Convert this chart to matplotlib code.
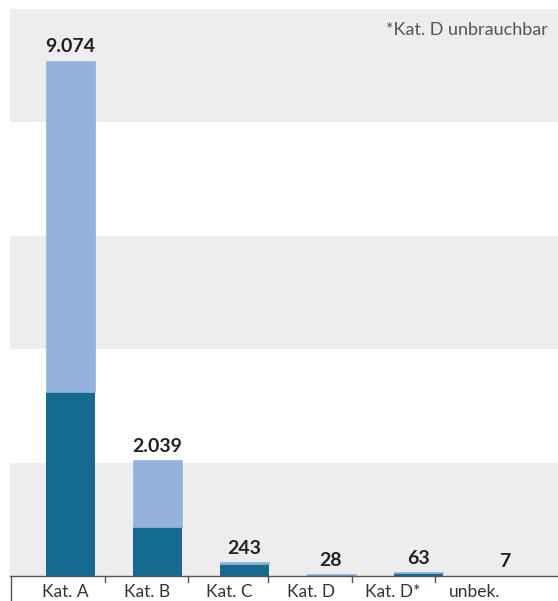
import matplotlib
matplotlib.use("Agg")
import matplotlib.pyplot as plt

categories = ["Kat. A", "Kat. B", "Kat. C", "Kat. D", "Kat. D*", "unbek."]
dark_values = [3240, 860, 215, 20, 60, 0]
light_values = [5834, 1179, 28, 8, 3, 7]
total_labels = ["9.074", "2.039", "243", "28", "63", "7"]
footnote = "*Kat. D unbrauchbar"

DARK = "#146b8f"
LIGHT = "#94b2dd"
BAND = "#ededed"

W, H = 558, 601
fig = plt.figure(figsize=(W / 100, H / 100), dpi=100)
plt.rcParams["font.family"] = ["Lato", "DejaVu Sans"]

# pixel geometry of the reference
ax_left, ax_right, ax_top, ax_bottom = 10, 558, 8.5, 576
ax = fig.add_axes([ax_left / W, (H - ax_bottom) / H, (ax_right - ax_left) / W, (ax_bottom - ax_top) / H])

bar_px0, bar_step = 70, 87


def px_to_x(px):
    return (px - bar_px0) / bar_step


positions = list(range(len(categories)))
totals = [d + l for d, l in zip(dark_values, light_values)]

for lo in (0, 4000, 8000):
    ax.axhspan(lo, lo + 2000, color=BAND, lw=0, zorder=0)

ax.bar(positions, dark_values, width=49 / bar_step, color=DARK, zorder=2)
ax.bar(positions, light_values, bottom=dark_values, width=49 / bar_step, color=LIGHT,
       edgecolor=LIGHT, lw=0.5, zorder=2)

for x, t, lab in zip(positions, totals, total_labels):
    ax.annotate(lab, (x, t), xytext=(0, 4), textcoords="offset points",
                ha="center", va="bottom", fontsize=14, fontweight="bold", color="#222222")

ax.set_xlim(px_to_x(ax_left), px_to_x(ax_right))
ax.set_ylim(0, 10000)
ax.set_yticks([])

label_px = [65 + 82 * i for i in range(len(categories))]
ax.set_xticks([px_to_x(p) for p in label_px])
ax.set_xticklabels(categories, fontsize=12.5, color="#333333")
ax.tick_params(axis="x", length=0, pad=6)

for s in ("top", "right", "left"):
    ax.spines[s].set_visible(False)
ax.spines["bottom"].set_color("#555555")
ax.spines["bottom"].set_linewidth(1)

# separators between the category labels
for px in (105, 188, 268, 352, 435):
    ax.plot([px_to_x(px)] * 2, [0, -100], color="#555555", lw=1, clip_on=False)
ax.plot([px_to_x(ax_left + 0.5)] * 2, [0, -500], color="#555555", lw=1, clip_on=False)

fig.text(548 / W, 1 - 30 / H, footnote, ha="right", va="center", fontsize=13, color="#555555")

fig.savefig("out.png", dpi=100)
